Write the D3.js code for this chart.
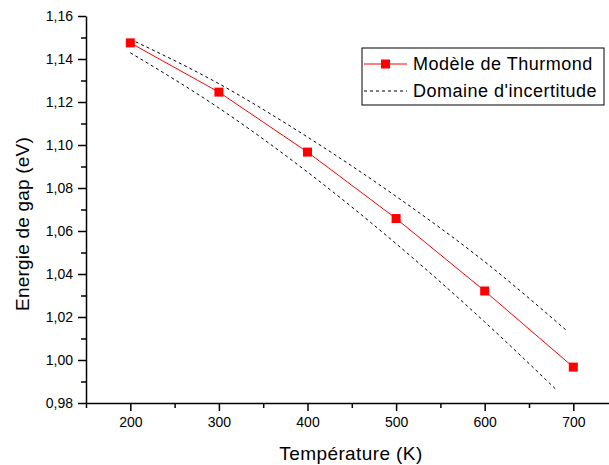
<!DOCTYPE html>
<html lang="fr">
<head>
<meta charset="UTF-8">
<title>Energie de gap</title>
<script src="https://d3js.org/d3.v7.min.js"></script>
<style>
 body {margin: 0; padding: 0; background: #fff;}
 svg {font-family: "Liberation Sans", Arial, sans-serif;}
 .axis path, .axis line {stroke: #000; stroke-width: 1.5px;}
 .axis text {font-size: 14px; fill: #000;}
</style>
</head>
<body>
<svg id="chart" width="609" height="465"></svg>
<script>
// Modèle de Thurmond
const temps = [200, 300, 400, 500, 600, 700];
const gap = [1.1475, 1.1246, 1.0967, 1.0658, 1.0321, 0.9967];
// Domaine d'incertitude (bornes haute et basse)
const upperT = [200, 300, 400, 500, 600, 693];
const upperE = [1.1492, 1.1285, 1.1037, 1.0761, 1.0457, 1.0135];
const lowerT = [200, 300, 400, 500, 600, 680];
const lowerE = [1.1429, 1.1172, 1.0874, 1.0541, 1.0177, 0.9865];

const xMajor = [200, 300, 400, 500, 600, 700];
const yMajor = [0.98, 1.00, 1.02, 1.04, 1.06, 1.08, 1.10, 1.12, 1.14, 1.16];

const svg = d3.select('#chart');
const x = d3.scaleLinear().domain([150, 750]).range([86, 617.6]);
const y = d3.scaleLinear().domain([0.98, 1.16]).range([403, 16]);

// minor ticks
const xMinor = d3.range(150, 751, 50).filter(v => !xMajor.includes(v));
const yMinor = d3.range(0, 19).map(i => +(0.98 + i * 0.01).toFixed(2)).filter(v => !yMajor.some(m => Math.abs(m - v) < 1e-6));

svg.append('g').attr('class', 'axis')
  .attr('transform', 'translate(0,403)')
  .call(d3.axisBottom(x).tickValues(xMinor).tickSize(5).tickFormat(''))
  .call(g => g.select('.domain').remove());
svg.append('g').attr('class', 'axis')
  .attr('transform', 'translate(86,0)')
  .call(d3.axisLeft(y).tickValues(yMinor).tickSize(5).tickFormat(''))
  .call(g => g.select('.domain').remove());

const fr = d3.formatLocale({decimal: ',', thousands: ' ', grouping: [3], currency: ['', ' €']});

svg.append('g').attr('class', 'axis')
  .attr('transform', 'translate(0,403)')
  .call(d3.axisBottom(x).tickValues(xMajor).tickSize(8).tickSizeOuter(0).tickPadding(6).tickFormat(d3.format('d')));
svg.append('g').attr('class', 'axis')
  .attr('transform', 'translate(86,0)')
  .call(d3.axisLeft(y).tickValues(yMajor).tickSize(8).tickSizeOuter(0).tickPadding(5).tickFormat(fr.format('.2f')));

// uncertainty bounds
const line = d3.line().x(d => x(d[0])).y(d => y(d[1])).curve(d3.curveMonotoneX);
[[upperT, upperE], [lowerT, lowerE]].forEach(([t, e]) => {
  svg.append('path')
    .datum(t.map((v, i) => [v, e[i]]))
    .attr('d', line)
    .attr('fill', 'none')
    .attr('stroke', '#000')
    .attr('stroke-width', 1)
    .attr('stroke-dasharray', '3,3');
});

// model
const model = temps.map((t, i) => [t, gap[i]]);
svg.append('path')
  .datum(model)
  .attr('d', d3.line().x(d => x(d[0])).y(d => y(d[1])))
  .attr('fill', 'none')
  .attr('stroke', '#ff0000')
  .attr('stroke-width', 1);
svg.selectAll('rect.pt').data(model).enter()
  .append('rect').attr('class', 'pt')
  .attr('x', d => x(d[0]) - 4.5)
  .attr('y', d => y(d[1]) - 4.5)
  .attr('width', 9).attr('height', 9)
  .attr('fill', '#ff0000');

// axis titles
svg.append('text')
  .attr('x', 351).attr('y', 460)
  .attr('text-anchor', 'middle')
  .attr('font-size', 19)
  .attr('letter-spacing', 0.4)
  .text('Température (K)');
svg.append('text')
  .attr('transform', 'translate(29,224) rotate(-90)')
  .attr('text-anchor', 'middle')
  .attr('font-size', 19)
  .attr('letter-spacing', 0.2)
  .text('Energie de gap (eV)');

// legend
const leg = svg.append('g');
leg.append('rect')
  .attr('x', 362).attr('y', 48).attr('width', 242).attr('height', 57)
  .attr('fill', '#fff').attr('stroke', '#000').attr('stroke-width', 1);
leg.append('line')
  .attr('x1', 364).attr('x2', 407).attr('y1', 64).attr('y2', 64)
  .attr('stroke', '#ff0000').attr('stroke-width', 1);
leg.append('rect')
  .attr('x', 381).attr('y', 59.5).attr('width', 9).attr('height', 9)
  .attr('fill', '#ff0000');
leg.append('line')
  .attr('x1', 364).attr('x2', 407).attr('y1', 91).attr('y2', 91)
  .attr('stroke', '#000').attr('stroke-width', 1).attr('stroke-dasharray', '3,3');
leg.append('text').attr('x', 413).attr('y', 70).attr('font-size', 18).attr('letter-spacing', 0.5).text('Modèle de Thurmond');
leg.append('text').attr('x', 413).attr('y', 97).attr('font-size', 18).attr('letter-spacing', 0.5).text("Domaine d'incertitude");
</script>
</body>
</html>
